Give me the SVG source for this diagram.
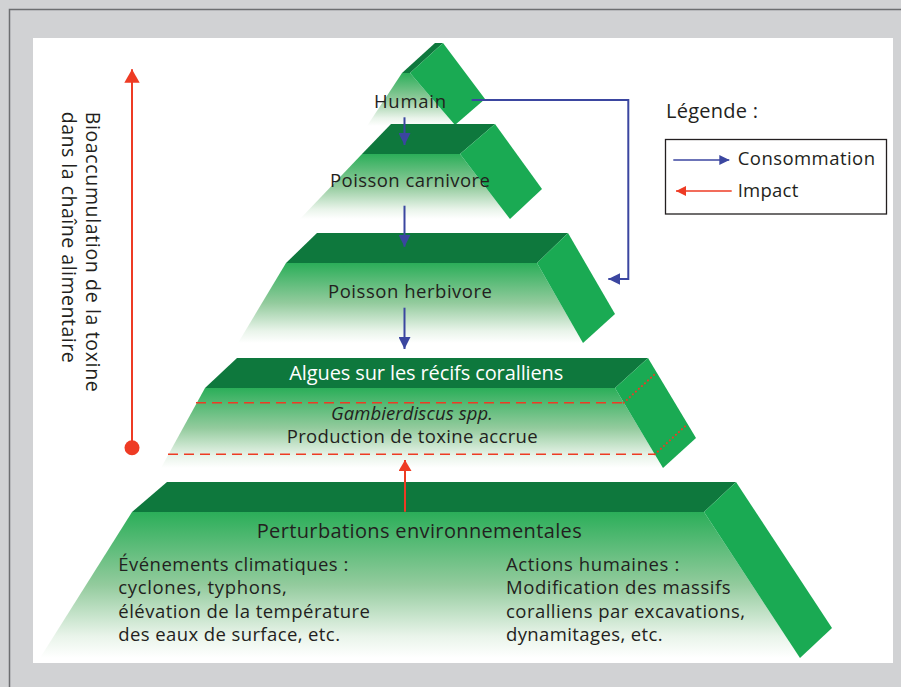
<svg xmlns="http://www.w3.org/2000/svg" width="901" height="687" viewBox="0 0 901 687">
<defs>
<linearGradient id="front" x1="0" y1="0" x2="0" y2="1">
<stop offset="0" stop-color="#2bae59"/>
<stop offset="0.5" stop-color="#93cb9d"/>
<stop offset="0.85" stop-color="#e9f4ea"/>
<stop offset="1" stop-color="#ffffff"/>
</linearGradient>
<marker id="arrB" markerUnits="userSpaceOnUse" markerWidth="12" markerHeight="12" refX="12" refY="6" orient="auto"><path d="M0,0 L12,6 L0,12 z" fill="#3b46a0"/></marker>
<marker id="arrBs" markerUnits="userSpaceOnUse" markerWidth="10" markerHeight="10" refX="10" refY="5" orient="auto"><path d="M0,0 L10,5 L0,10 z" fill="#3b46a0"/></marker>
<marker id="arrR" markerUnits="userSpaceOnUse" markerWidth="11" markerHeight="13" refX="11" refY="6.5" orient="auto"><path d="M0,0 L11,6.5 L0,13 z" fill="#ee3b24"/></marker>
<marker id="arrRs" markerUnits="userSpaceOnUse" markerWidth="10" markerHeight="10" refX="10" refY="5" orient="auto"><path d="M0,0 L10,5 L0,10 z" fill="#ee3b24"/></marker>
<marker id="arrAxis" markerUnits="userSpaceOnUse" markerWidth="14" markerHeight="16" refX="13.4" refY="7.7" orient="auto"><path d="M0,0 L13.4,7.7 L0,15.4 z" fill="#ee3b24"/></marker>
</defs>
<style>
.top{fill:#0e783d}
.side{fill:#1aaa53}
.front{fill:url(#front)}
.t{font-family:"Open Sans","Noto Sans","Liberation Sans",sans-serif;fill:#231f20}
.w{fill:#ffffff}
.blue{stroke:#3b46a0;stroke-width:2;fill:none}
.red{stroke:#ee3b24;stroke-width:2;fill:none}
.dash{stroke:#ee3b24;stroke-width:1.6;stroke-dasharray:10 6;fill:none}
.dot{stroke:#ee3b24;stroke-width:2;stroke-dasharray:0.1 4;stroke-linecap:round;fill:none}
</style>
<rect x="0" y="0" width="901" height="687" fill="#d1d2d4"/>
<path d="M9.5,687 V9.5 H901" fill="none" stroke="#6d6e71" stroke-width="1.5"/>
<rect x="33" y="38" width="860" height="625" fill="#ffffff"/>

<g id="tier-humain">
<polygon class="front" points="402,73 410,73 455,125 367,126"/>
<polygon class="top" points="402,73 435,43 443,43 410,73"/>
<polygon class="side" points="410,73 443,43 485,99 455,125"/>
<text class="t" x="374" y="107.7" font-size="18.5" textLength="72">Humain</text>
</g>

<g id="tier-carnivore">
<polygon class="front" points="362,154 460,154 510,219 300,219"/>
<polygon class="top" points="362,154 391,124 495,124 460,154"/>
<polygon class="side" points="460,154 495,124 542,189 510,219"/>
<text class="t" x="330" y="187.3" font-size="18.5" textLength="160">Poisson carnivore</text>
</g>

<g id="tier-herbivore">
<polygon class="front" points="286,263 537,263 583,343 238,343"/>
<polygon class="top" points="286,263 317,233 568,233 537,263"/>
<polygon class="side" points="537,263 568,233 615,314 583,343"/>
<text class="t" x="328" y="297.7" font-size="18.5" textLength="164">Poisson herbivore</text>
</g>

<g id="tier-algues">
<polygon class="front" points="205,388 615,388 663,468 161,468"/>
<polygon class="top" points="205,388 237,358 648,358 615,388"/>
<polygon class="side" points="615,388 648,358 696,438 663,468"/>
<line class="dash" x1="196" y1="402.7" x2="623.8" y2="402.7"/>
<line class="dash" x1="168" y1="454.3" x2="654.8" y2="454.3"/>
<line class="dot" x1="623.8" y1="402.7" x2="655.5" y2="373.5"/>
<line class="dot" x1="654.8" y1="454.3" x2="687" y2="424.5"/>
<text class="t w" x="289.3" y="380" font-size="20" textLength="274">Algues sur les récifs coralliens</text>
<text class="t" x="331" y="420" font-size="18.5" font-style="italic" textLength="162">Gambierdiscus spp.</text>
<text class="t" x="286.7" y="443.3" font-size="18.5" textLength="251">Production de toxine accrue</text>
</g>

<g id="tier-perturbations">
<polygon class="front" points="132,512 704,512 800,658 40,658"/>
<polygon class="top" points="132,512 167,482 736,482 704,512"/>
<polygon class="side" points="704,512 736,482 832,628 800,658"/>
<text class="t" x="256.7" y="537.7" font-size="20" textLength="325">Perturbations environnementales</text>
<text class="t" font-size="18.5">
<tspan x="118.3" y="570.5" textLength="230">Événements climatiques :</tspan>
<tspan x="118.3" y="594" textLength="168.4">cyclones, typhons,</tspan>
<tspan x="118.3" y="617.6" textLength="251.7">élévation de la température</tspan>
<tspan x="118.3" y="641" textLength="221.7">des eaux de surface, etc.</tspan>
</text>
<text class="t" font-size="18.5">
<tspan x="506" y="570.5" textLength="173.3">Actions humaines :</tspan>
<tspan x="506" y="594" textLength="224.7">Modification des massifs</tspan>
<tspan x="506" y="617.6" textLength="239">coralliens par excavations,</tspan>
<tspan x="506" y="641" textLength="156.7">dynamitages, etc.</tspan>
</text>
</g>

<g id="axis">
<line class="red" x1="132" y1="447.7" x2="132" y2="69.3" marker-end="url(#arrAxis)"/>
<circle cx="132" cy="447.7" r="7.5" fill="#ee3b24"/>
<text class="t" font-size="19.5" transform="translate(86,111.7) rotate(90)"><tspan x="0" y="0" textLength="280">Bioaccumulation de la toxine</tspan></text>
<text class="t" font-size="19.5" transform="translate(61.5,111.7) rotate(90)"><tspan x="0" y="0" textLength="251">dans la chaîne alimentaire</tspan></text>
</g>

<g id="legend">
<text class="t" x="666" y="118.3" font-size="20" textLength="92">Légende :</text>
<rect x="665.5" y="139.5" width="221" height="74.5" fill="#ffffff" stroke="#231f20" stroke-width="1.3"/>
<line x1="673.3" y1="160" x2="729.3" y2="160" stroke="#3b46a0" stroke-width="1.5" marker-end="url(#arrBs)"/>
<text class="t" x="737.7" y="165" font-size="18.5" textLength="137.3">Consommation</text>
<line x1="731.7" y1="191" x2="676" y2="191" stroke="#ee3b24" stroke-width="1.5" marker-end="url(#arrRs)"/>
<text class="t" x="737.7" y="197.3" font-size="18.5" textLength="60.6">Impact</text>
</g>

<g id="connectors">
<line class="blue" x1="404.5" y1="117.3" x2="404.5" y2="145" marker-end="url(#arrB)"/>
<line class="blue" x1="404.5" y1="205.7" x2="404.5" y2="246.7" marker-end="url(#arrB)"/>
<line class="blue" x1="404.5" y1="307.7" x2="404.5" y2="349" marker-end="url(#arrB)"/>
<path class="blue" d="M471.7,100 H628.3 V279 H608.3" marker-end="url(#arrB)"/>
<line class="red" x1="405" y1="511.7" x2="405" y2="460" marker-end="url(#arrR)"/>
</g>
</svg>
